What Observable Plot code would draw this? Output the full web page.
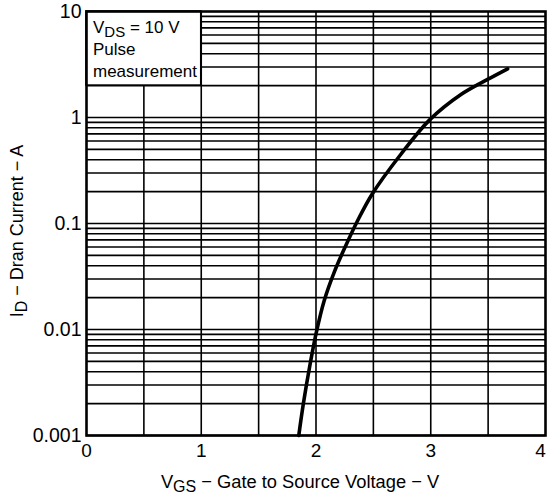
<!DOCTYPE html>
<html>
<head>
<meta charset="utf-8">
<script src="https://cdn.jsdelivr.net/npm/d3@7"></script>
<script src="https://cdn.jsdelivr.net/npm/@observablehq/plot@0.6"></script>
<style>
  html, body { margin: 0; padding: 0; background: #fff; }
  svg { display: block; }
</style>
</head>
<body>
<div id="chart"></div>
<script>
// Transfer characteristic: VGS (V) vs ID (A)
const vgs = [1.85, 1.89, 1.95, 2.0, 2.07, 2.16, 2.26, 2.36, 2.49, 2.74, 2.99, 3.26, 3.5, 3.67];
const idA = [0.001, 0.002, 0.0048, 0.0091, 0.0185, 0.035, 0.062, 0.105, 0.19, 0.45, 0.95, 1.64, 2.3, 2.88];

const xTicks = [0, 1, 2, 3];
const xTickLast = [4];
const xGrid = [0.5, 1, 1.5, 2, 2.5, 3, 3.5];
const yTicks = [0.001, 0.01, 0.1, 1, 10];
const decades = [0.001, 0.01, 0.1, 1];
const mantissas = [1, 2, 3, 4, 5, 6, 7, 8, 9];

const yGrid = decades.flatMap(d => mantissas.map(m => +(m * d).toPrecision(3)));
const curve = vgs.map((v, i) => ({vgs: v, id: idA[i]}));

const font = "'Liberation Sans', Arial, sans-serif";

const plot = Plot.plot({
  width: 547,
  height: 497,
  marginLeft: 86,
  marginRight: 2,
  marginTop: 11,
  marginBottom: 62,
  style: {fontFamily: font, fontSize: "18px", color: "#000", background: "#fff"},
  x: {domain: [0, 4]},
  y: {type: "log", domain: [0.001, 10]},
  marks: [
    Plot.ruleY(yGrid, {stroke: "#000", strokeWidth: 1.6}),
    Plot.ruleX(xGrid, {stroke: "#000", strokeWidth: 1.6}),
    Plot.rect([{x1: 0, x2: 1, y1: 2, y2: 10}], {x1: "x1", x2: "x2", y1: "y1", y2: "y2", fill: "#fff", stroke: "#000", strokeWidth: 1.6}),
    Plot.line(curve, {x: "vgs", y: "id", stroke: "#000", strokeWidth: 3.6, curve: "catmull-rom"}),
    Plot.frame({stroke: "#000", strokeWidth: 2.6}),
    Plot.axisX(xTicks, {tickSize: 0, tickPadding: 8, fontSize: 19, label: null, tickFormat: d => String(d)}),
    Plot.axisX(xTickLast, {tickSize: 0, tickPadding: 8, fontSize: 19, label: null, dx: -5, tickFormat: d => String(d)}),
    Plot.axisY(yTicks, {tickSize: 0, tickPadding: 5, fontSize: 19.5, label: null, tickFormat: d => String(d)})
  ]
});

document.getElementById("chart").appendChild(plot);

// Labels with subscripts
const svg = d3.select(plot);
const xs = plot.scale("x");

const xl = svg.append("text")
  .attr("x", 300).attr("y", 488)
  .attr("text-anchor", "middle")
  .attr("font-family", font).attr("font-size", 18.3).attr("fill", "#000");
xl.append("tspan").text("V");
xl.append("tspan").attr("dy", 4).attr("font-size", 16).text("GS");
xl.append("tspan").attr("dy", -4).text(" \u2212 Gate to Source Voltage \u2212 V");

const yl = svg.append("text")
  .attr("transform", "translate(23,231) rotate(-90)")
  .attr("text-anchor", "middle")
  .attr("font-family", font).attr("font-size", 18).attr("fill", "#000");
yl.append("tspan").text("I");
yl.append("tspan").attr("dy", 4).attr("font-size", 16).text("D");
yl.append("tspan").attr("dy", -4).text(" \u2212 Dran Current \u2212 A");

// Annotation inside the white box
const bx = xs.apply(0) + 7;
const t1 = svg.append("text").attr("x", bx).attr("y", 33).attr("text-anchor", "start")
  .attr("font-family", font).attr("font-size", 17).attr("fill", "#000");
t1.append("tspan").text("V");
t1.append("tspan").attr("dy", 4).attr("font-size", 15).text("DS");
t1.append("tspan").attr("dy", -4).text(" = 10 V");
svg.append("text").attr("x", bx).attr("y", 55).attr("text-anchor", "start")
  .attr("font-family", font).attr("font-size", 17).attr("fill", "#000").text("Pulse");
svg.append("text").attr("x", bx).attr("y", 77).attr("text-anchor", "start")
  .attr("font-family", font).attr("font-size", 17).attr("fill", "#000").text("measurement");
</script>
</body>
</html>
